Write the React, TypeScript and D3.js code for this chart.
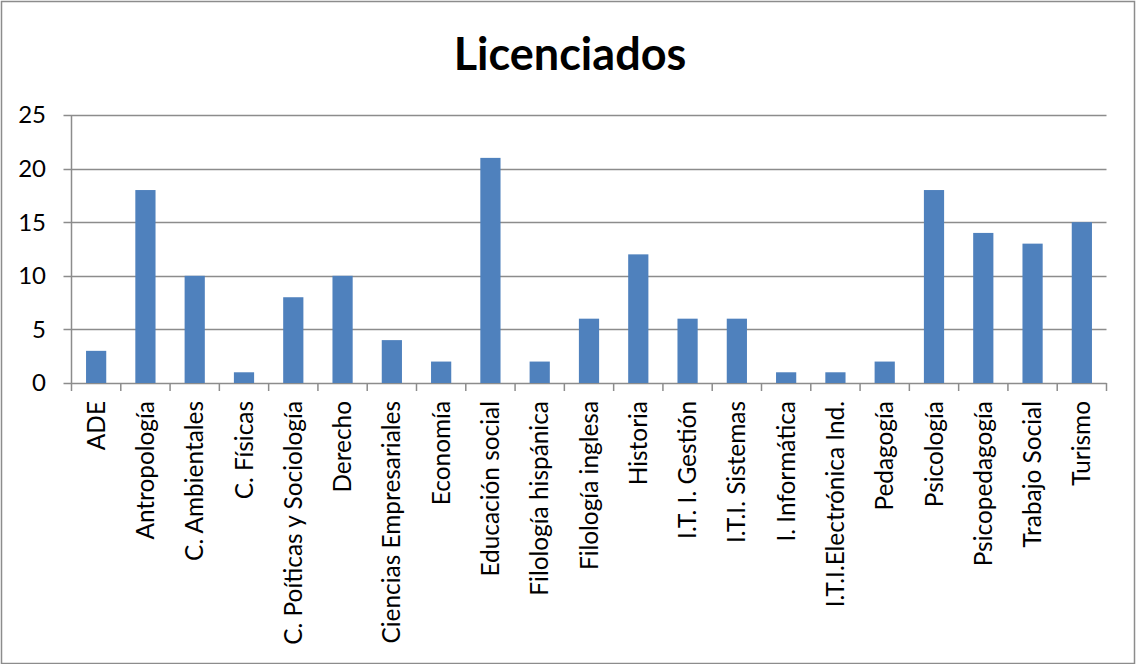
import React from "react";
import * as d3 from "d3";

const categories = [
  "ADE", "Antropología", "C. Ambientales", "C. Físicas", "C. Poíticas y Sociología",
  "Derecho", "Ciencias Empresariales", "Economía", "Educación social", "Filología hispánica",
  "Filología inglesa", "Historia", "I.T. I. Gestión", "I.T.I. Sistemas", "I. Informática",
  "I.T.I.Electrónica Ind.", "Pedagogía", "Psicología", "Psicopedagogía", "Trabajo Social", "Turismo",
];
const values = [3, 18, 10, 1, 8, 10, 4, 2, 21, 2, 6, 12, 6, 6, 1, 1, 2, 18, 14, 13, 15];
const yTicks = [0, 5, 10, 15, 20, 25];
const title = "Licenciados";

const W = 1136, H = 664;
const left = 71.5, right = 1106.5, top = 115, bottom = 383;
const FONT = "Lato, 'Open Sans', sans-serif";

export default function App() {
  const x = d3.scaleBand<string>().domain(categories).range([left, right]).paddingInner(0.59).paddingOuter(0.295);
  const xb = d3.scaleBand<string>().domain(categories).range([left, right]);
  const y = d3.scaleLinear().domain([0, 25]).range([bottom, top]);
  const grid = "#8c8c8c";
  return (
    <svg width={W} height={H} style={{ position: "absolute", left: 0, top: 0, background: "#fff" }} fontFamily={FONT}>
      <rect x={1.5} y={1.5} width={W - 3} height={H - 2} fill="#fff" stroke="#8c8c8c" strokeWidth={1.5} />
      <text x={570} y={70} textAnchor="middle" fontSize={45} fontWeight="bold" fill="#000">{title}</text>
      {yTicks.map((t) => (
        <g key={t}>
          <line x1={left - 8} x2={right} y1={Math.round(y(t)) + 0.5} y2={Math.round(y(t)) + 0.5} stroke={grid} strokeWidth={1.5} />
          <text x={46} y={y(t)} dy="0.35em" textAnchor="end" fontSize={24} fill="#000">{t}</text>
        </g>
      ))}
      <line x1={left} x2={left} y1={top} y2={bottom} stroke={grid} strokeWidth={1.5} />
      {categories.map((c, i) => (
        <line key={"t" + i} x1={xb(c)!} x2={xb(c)!} y1={bottom} y2={bottom + 8} stroke={grid} strokeWidth={1.5} />
      ))}
      <line x1={right} x2={right} y1={bottom} y2={bottom + 8} stroke={grid} strokeWidth={1.5} />
      {categories.map((c, i) => (
        <rect key={"b" + i} x={x(c)!} y={y(values[i])} width={x.bandwidth()} height={bottom - y(values[i])} fill="#4f81bd" />
      ))}
      {categories.map((c, i) => {
        const cx = xb(c)! + xb.bandwidth() / 2;
        return (
          <text key={"l" + i} transform={`translate(${cx},401) rotate(-90)`} dy="0.35em" textAnchor="end" fontSize={24.4} fill="#000">{c}</text>
        );
      })}
    </svg>
  );
}
